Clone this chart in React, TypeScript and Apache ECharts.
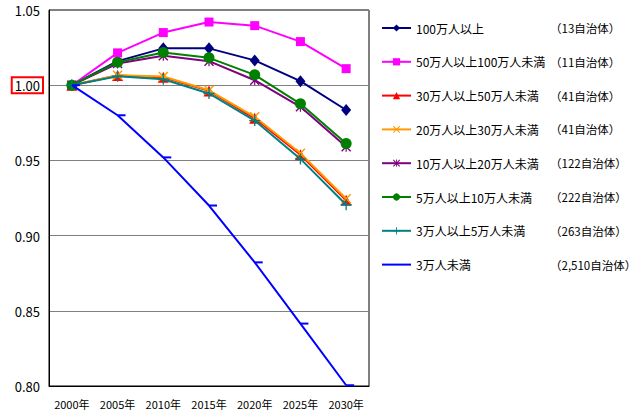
import React, { useEffect, useRef } from "react";
import * as echarts from "echarts";

const years = ["2000年", "2005年", "2010年", "2015年", "2020年", "2025年", "2030年"];
const yTicks = [0.8, 0.85, 0.9, 0.95, 1.0, 1.05];

const names = [
  "100万人以上",
  "50万人以上100万人未満",
  "30万人以上50万人未満",
  "20万人以上30万人未満",
  "10万人以上20万人未満",
  "5万人以上10万人未満",
  "3万人以上5万人未満",
  "3万人未満",
];
const counts = [
  "（13自治体）",
  "（11自治体）",
  "（41自治体）",
  "（41自治体）",
  "（122自治体）",
  "（222自治体）",
  "（263自治体）",
  "（2,510自治体）",
];

const s100 = [1.0, 1.016, 1.0245, 1.0245, 1.0165, 1.0027, 0.9835];
const s50 = [1.0, 1.0215, 1.035, 1.042, 1.0396, 1.029, 1.011];
const s30 = [1.0, 1.0065, 1.0053, 0.9962, 0.978, 0.9538, 0.9235];
const s20 = [1.0, 1.0066, 1.0058, 0.9966, 0.979, 0.9548, 0.9245];
const s10 = [1.0, 1.0144, 1.0196, 1.016, 1.0033, 0.9856, 0.959];
const s5 = [1.0, 1.0153, 1.0218, 1.0182, 1.0069, 0.9876, 0.9613];
const s3 = [1.0, 1.006, 1.004, 0.9945, 0.9765, 0.951, 0.9205];
const sUnder3 = [1.0, 0.98, 0.952, 0.92, 0.8822, 0.8415, 0.8005];

const colors = ["#000080", "#ff00ff", "#ff0000", "#ff9900", "#800080", "#008000", "#008080", "#0000ff"];

const X_PATH = "path://M1,0L5,4L9,0L10,1L6,5L10,9L9,10L5,6L1,10L0,9L4,5L0,1Z";
const STAR_PATH = "path://M1,0L5,4L9,0L10,1L6,5L10,9L9,10L5,6L1,10L0,9L4,5L0,1Z M4.4,0H5.6V10H4.4Z";
const PLUS_PATH = "path://M4.4,0H5.6V4.4H10V5.6H5.6V10H4.4V5.6H0V4.4H4.4Z";
const DASH_PATH = "path://M0,0M16,16M8,7H16V9H8Z";

export default function App() {
  const ref = useRef<HTMLDivElement>(null);
  useEffect(() => {
    if (!ref.current) return;
    const chart = echarts.init(ref.current, null, { renderer: "svg" });
    const font = "'Noto Sans CJK JP', 'Noto Sans', sans-serif";
    const dataSets = [s100, s50, s30, s20, s10, s5, s3, sUnder3];
    const symbols: any[] = ["diamond", "rect", "triangle", X_PATH, STAR_PATH, "circle", PLUS_PATH, DASH_PATH];
    const sizes: any[] = [[10, 12], 9, 11, 10, 10, 11, 11, 16];
    const series = names.map((n, i) => ({
      name: n,
      type: "line",
      data: dataSets[i],
      symbol: symbols[i],
      symbolSize: sizes[i],
      showAllSymbol: true,
      lineStyle: { color: colors[i], width: 2 },
      itemStyle: { color: colors[i] },
      emphasis: { disabled: true },
      z: 2 + i,
    }));
    chart.setOption({
      animation: false,
      textStyle: { fontFamily: font },
      grid: {
        left: 49,
        top: 10,
        width: 320,
        height: 376,
        show: true,
        borderColor: "#000",
        borderWidth: 1,
        backgroundColor: "transparent",
      },
      legend: {
        orient: "vertical",
        left: 376,
        top: 17,
        itemWidth: 29,
        itemHeight: 9,
        itemGap: 21.8,
        selectedMode: false,
        data: names,
        formatter: (name: string) => {
          const i = names.indexOf(name);
          return `{n|${name}}{c|${counts[i]}}`;
        },
        textStyle: {
          fontFamily: font,
          color: "#000",
          rich: {
            n: { width: 134, fontSize: 12, fontFamily: font, color: "#000" },
            c: { fontSize: 11.5, fontFamily: font, color: "#000" },
          },
        },
      },
      xAxis: {
        type: "category",
        data: years,
        boundaryGap: true,
        axisLine: { lineStyle: { color: "#000", width: 1 } },
        axisTick: { inside: true, length: 5, lineStyle: { color: "#000" } },
        axisLabel: { color: "#000", fontSize: 11, margin: 12, fontFamily: font, interval: 0 },
        splitLine: { show: false },
      },
      yAxis: {
        type: "value",
        min: yTicks[0],
        max: yTicks[yTicks.length - 1],
        interval: 0.05,
        axisLine: { show: true, lineStyle: { color: "#000" } },
        axisTick: { show: false },
        splitLine: { show: true, lineStyle: { color: "#808080", width: 1 } },
        axisLabel: {
          margin: 6,
          formatter: (v: number) => {
            const s = v.toFixed(2);
            return Math.abs(v - 1) < 1e-9 ? `{b|${s}}` : `{n|${s}}`;
          },
          rich: {
            n: { fontSize: 13, color: "#000", fontFamily: font, padding: [2, 3, 1, 3] },
            b: {
              fontSize: 13,
              color: "#000",
              fontFamily: font,
              padding: [2, 3, 1, 3],
              borderColor: "#ff0000",
              borderWidth: 2,
            },
          },
        },
      },
      series,
    });
    return () => chart.dispose();
  }, []);
  return (
    <div
      ref={ref}
      style={{ position: "fixed", left: 0, top: 0, width: 638, height: 415, background: "#fff" }}
    />
  );
}
